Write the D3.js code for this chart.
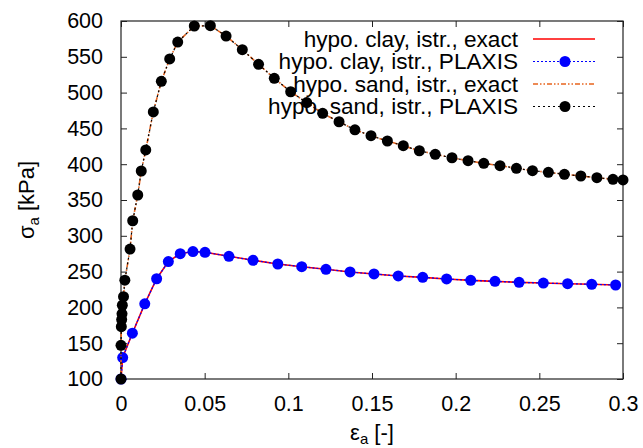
<!DOCTYPE html>
<meta charset="utf-8">
<script src="https://d3js.org/d3.v7.min.js"></script>
<style>
  body { margin: 0; background: #fff; }
  text { font-family: "Liberation Sans", Arial, sans-serif; fill: #000; }
</style>
<div id="chart"></div>
<script>

// data
var clayStrain = [0, 0.001, 0.0068, 0.0142, 0.0213, 0.0283, 0.0354, 0.043, 0.0502, 0.0645, 0.0789, 0.0937, 0.108,
                  0.1225, 0.1369, 0.1512, 0.1657, 0.1803, 0.1946, 0.209, 0.2235, 0.2379, 0.2524, 0.2669, 0.2813, 0.2956];
var clayStress = [100, 130, 164, 205, 240, 264, 275, 278, 277, 271.4, 265.8, 260.6, 256.8,
                  253.2, 249.5, 246.7, 243.9, 242, 239.7, 237.8, 236.4, 235, 234, 233.1, 232.3, 231.3];

var sandStrain = [0, 0, 0.0002, 0.0004, 0.0006, 0.0008, 0.0015, 0.0023, 0.0054, 0.007, 0.01, 0.0121, 0.0148, 0.0193,
                  0.0241, 0.0291, 0.0339, 0.0438, 0.0534, 0.0628, 0.0725, 0.0822, 0.0916, 0.1014, 0.111, 0.1205,
                  0.1303, 0.1398, 0.1494, 0.1592, 0.1687, 0.1783, 0.1878, 0.1978, 0.2074, 0.2168, 0.2265, 0.2363,
                  0.2459, 0.2554, 0.265, 0.2748, 0.2844, 0.294, 0.3];
var sandStress = [100, 147, 173, 183, 191, 203, 215, 238, 281.5, 321, 357, 390.5, 420, 473,
                  515.8, 547, 570.6, 593, 593.4, 579, 560, 539.5, 520, 501.2, 486, 471,
                  459.3, 448, 439.8, 432.4, 425.8, 418.8, 413.8, 409, 404.9, 401.2, 397.9, 394.3,
                  390.9, 388.7, 385.9, 383.5, 381.1, 378.9, 378];

var xTicks = [0, 0.05, 0.1, 0.15, 0.2, 0.25, 0.3];
var yTicks = [100, 150, 200, 250, 300, 350, 400, 450, 500, 550, 600];
var legendLabels = ["hypo. clay, istr., exact", "hypo. clay, istr., PLAXIS",
                    "hypo. sand, istr., exact", "hypo. sand, istr., PLAXIS"];

var margin = {top: 21, right: 20, bottom: 69, left: 121},
    width = 643 - margin.left - margin.right,
    height = 448 - margin.top - margin.bottom;

var svg = d3.select("#chart")
  .append("svg")
    .attr("width", 643)
    .attr("height", 448)
  .append("g")
    .attr("transform", "translate(" + margin.left + "," + margin.top + ")");

var x = d3.scaleLinear().domain([0, 0.3]).range([0, width]);
var y = d3.scaleLinear().domain([100, 600]).range([height, 0]);

// axes, gnuplot style: inward ticks on all four sides
var fmt = function(d) { return d3.format("")(d); };
svg.append("g")
  .attr("transform", "translate(0," + height + ")")
  .call(d3.axisBottom(x).tickValues(xTicks).tickSize(-6).tickPadding(16.5).tickFormat(fmt));
svg.append("g")
  .call(d3.axisLeft(y).tickValues(yTicks).tickSize(-6).tickPadding(18));
svg.append("g")
  .call(d3.axisTop(x).tickValues(xTicks).tickSize(-6).tickFormat(""));
svg.append("g")
  .attr("transform", "translate(" + width + ",0)")
  .call(d3.axisRight(y).tickValues(yTicks).tickSize(-6).tickFormat(""));

svg.selectAll(".domain").remove();
svg.selectAll(".tick line").attr("stroke", "#222");
svg.selectAll(".tick text").style("font-size", "21.5px").style("font-family", "Liberation Sans, Arial, sans-serif");

svg.append("rect")
  .attr("width", width).attr("height", height)
  .attr("fill", "none").attr("stroke", "#222").attr("stroke-width", 1.2);

// axis titles
svg.append("text")
  .attr("x", width / 2).attr("y", height + 61)
  .attr("text-anchor", "middle")
  .style("font-size", "22px")
  .html('ε<tspan dy="4" font-size="15px">a</tspan><tspan dy="-4"> [-]</tspan>');

svg.append("text")
  .attr("transform", "translate(" + (-87) + "," + (height / 2) + ") rotate(-90)")
  .attr("text-anchor", "middle")
  .style("font-size", "22px")
  .html('σ<tspan dy="5" font-size="15px">a</tspan><tspan dy="-5"> [kPa]</tspan>');

// series
var clay = clayStrain.map(function(d, i) { return {x: d, y: clayStress[i]}; });
var sand = sandStrain.map(function(d, i) { return {x: d, y: sandStress[i]}; });

var line = d3.line()
  .x(function(d) { return x(d.x); })
  .y(function(d) { return y(d.y); });

var series = [
  {data: clay, color: "#ff0000", dash: null, width: 1.6, marker: false},
  {data: clay, color: "#0000ff", dash: "2,2", width: 1.2, marker: true},
  {data: sand, color: "#e8641e", dash: "5,2,1.5,2,1.5,2", width: 1.6, marker: false},
  {data: sand, color: "#000000", dash: "2,3", width: 1.2, marker: true}
];

series.forEach(function(s) {
  svg.append("path")
    .attr("d", line(s.data))
    .attr("fill", "none")
    .attr("stroke", s.color)
    .attr("stroke-width", s.width)
    .attr("stroke-dasharray", s.dash);
  if (s.marker) {
    svg.selectAll(null)
      .data(s.data)
      .enter()
      .append("circle")
        .attr("cx", function(d) { return x(d.x); })
        .attr("cy", function(d) { return y(d.y); })
        .attr("r", 5.5)
        .attr("fill", s.color);
  }
});

// legend
var legend = svg.append("g");
series.forEach(function(s, i) {
  var ly = 18 + i * 22.5;
  legend.append("text")
    .attr("x", 397).attr("y", ly + 7.5)
    .attr("text-anchor", "end")
    .style("font-size", "22.6px")
    .text(legendLabels[i]);
  legend.append("line")
    .attr("x1", 412).attr("x2", 474)
    .attr("y1", ly).attr("y2", ly)
    .attr("stroke", s.color)
    .attr("stroke-width", s.width)
    .attr("stroke-dasharray", s.dash);
  if (s.marker) {
    legend.append("circle")
      .attr("cx", 444).attr("cy", ly).attr("r", 5.5)
      .attr("fill", s.color);
  }
});

</script>
